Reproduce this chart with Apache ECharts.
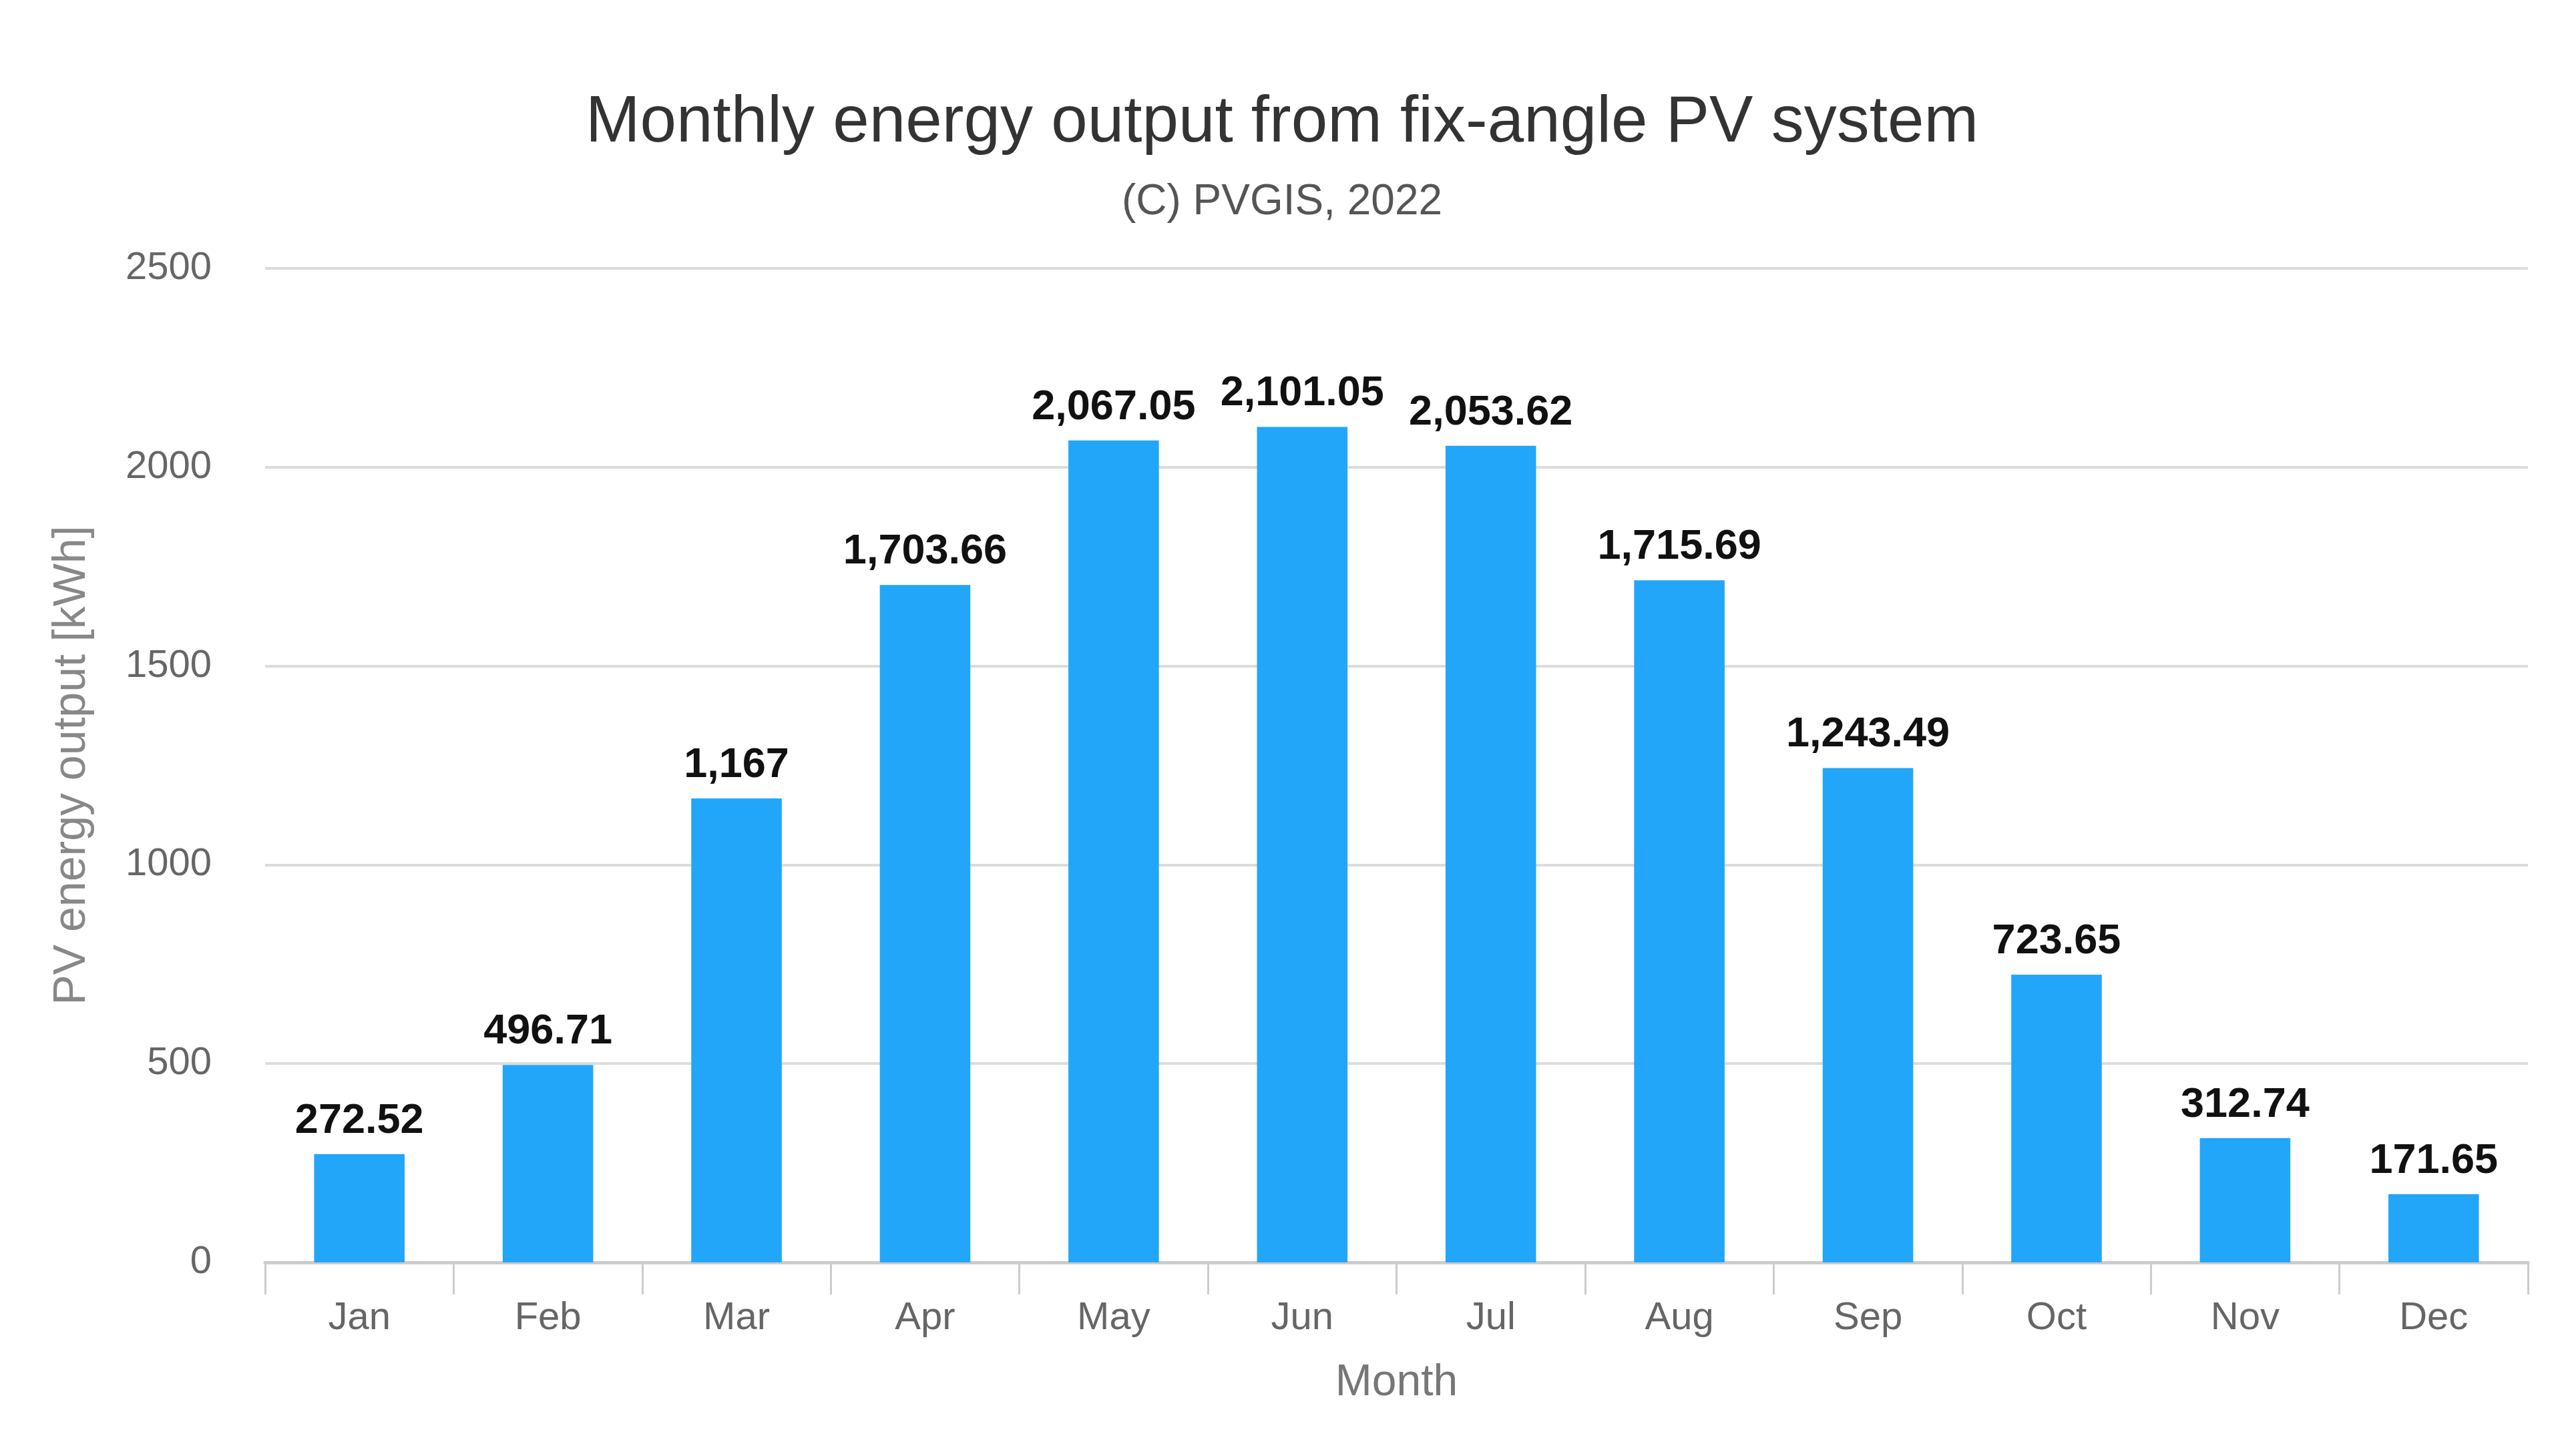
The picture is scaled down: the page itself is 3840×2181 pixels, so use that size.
<!DOCTYPE html>
<html>
<head>
<meta charset="utf-8">
<title>Monthly energy output</title>
<script src="https://cdn.jsdelivr.net/npm/echarts@6/dist/echarts.min.js"></script>
<style>
  html, body { margin: 0; padding: 0; background: #fff; }
  #chart { width: 3840px; height: 2181px; }
</style>
</head>
<body>
<div id="chart"></div>
<script>
// 月份和发电量数据
var months = ['Jan', 'Feb', 'Mar', 'Apr', 'May', 'Jun', 'Jul', 'Aug', 'Sep', 'Oct', 'Nov', 'Dec'];
var energyOutput = [272.52, 496.71, 1167, 1703.66, 2067.05, 2101.05, 2053.62, 1715.69, 1243.49, 723.65, 312.74, 171.65];
var yTicks = [0, 500, 1000, 1500, 2000, 2500];

var FONT = 'Liberation Sans, Arial, sans-serif';

function formatValue(v) {
    return v.toLocaleString('en-US', { maximumFractionDigits: 2 });
}

var myChart = echarts.init(document.getElementById('chart'), null, { renderer: 'canvas' });

var option = {
    backgroundColor: '#ffffff',
    title: [
        {
            text: 'Monthly energy output from fix-angle PV system',
            left: 'center',
            top: 131,
            textStyle: { fontFamily: FONT, fontSize: 98, fontWeight: 'normal', color: '#333333' }
        },
        {
            text: '(C) PVGIS, 2022',
            left: 'center',
            top: 266,
            textStyle: { fontFamily: FONT, fontSize: 64, fontWeight: 'normal', color: '#555555' }
        }
    ],
    grid: {
        left: 397,
        right: 54,
        top: 402,
        bottom: 290,
        containLabel: false
    },
    xAxis: {
        type: 'category',
        data: months,
        name: 'Month',
        nameLocation: 'middle',
        nameGap: 148,
        nameTextStyle: { fontFamily: FONT, fontSize: 66, color: '#777777' },
        axisLine: { lineStyle: { color: '#cccccc', width: 5 } },
        axisTick: { show: true, length: 48, lineStyle: { color: '#cccccc', width: 3 } },
        axisLabel: { fontFamily: FONT, fontSize: 58, color: '#666666', margin: 55 }
    },
    yAxis: {
        type: 'value',
        min: yTicks[0],
        max: yTicks[yTicks.length - 1],
        interval: yTicks[1] - yTicks[0],
        name: 'PV energy output [kWh]',
        nameLocation: 'middle',
        nameGap: 255,
        nameTextStyle: { fontFamily: FONT, fontSize: 68, color: '#888888' },
        axisLine: { show: false },
        axisTick: { show: false },
        axisLabel: {
            fontFamily: FONT, fontSize: 58, color: '#666666', margin: 80,
            padding: [18, 0, 0, 0],
            formatter: function (v) { return String(v); }
        },
        splitLine: { lineStyle: { color: '#dcdcdc', width: 4 } }
    },
    series: [
        {
            name: 'PV energy output',
            type: 'bar',
            data: energyOutput,
            barWidth: '48%',
            itemStyle: { color: '#22a6f9' },
            label: {
                show: true,
                position: 'top',
                distance: 18,
                fontFamily: FONT,
                fontSize: 63,
                fontWeight: 'bold',
                color: '#111111',
                formatter: function (p) { return formatValue(p.value); }
            }
        }
    ]
};

myChart.setOption(option);
window.addEventListener('resize', myChart.resize);
</script>
</body>
</html>
